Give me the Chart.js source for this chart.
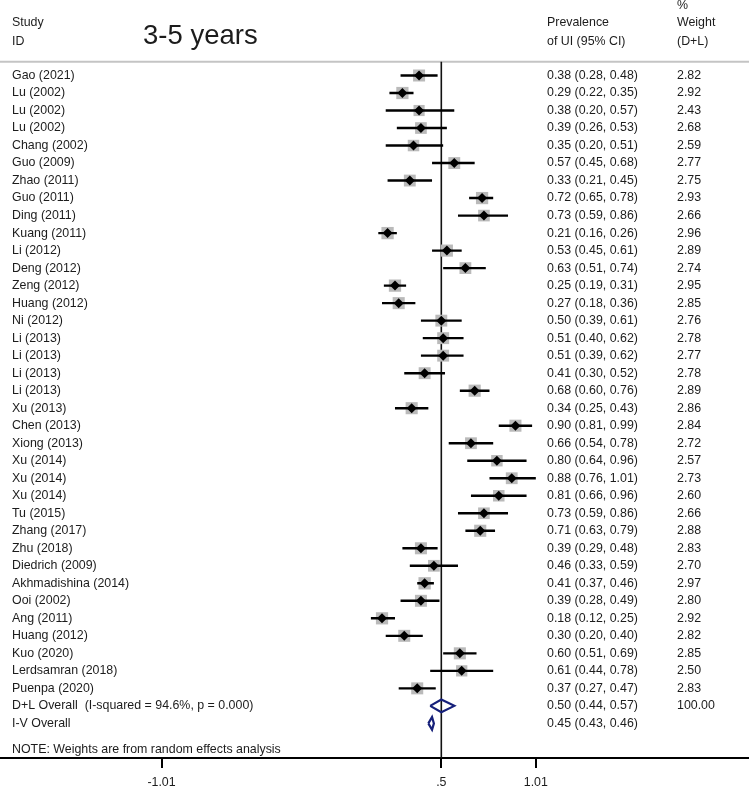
<!DOCTYPE html>
<html><head><meta charset="utf-8">
<script src="https://cdn.jsdelivr.net/npm/chart.js@4.4.1/dist/chart.umd.min.js"></script>
<style>html,body{margin:0;padding:0;background:#fff;} canvas{display:block;}</style>
</head><body>
<canvas id="c" width="749" height="788"></canvas>
<script>
// ---- data ----
const studies = ['Gao (2021)','Lu (2002)','Lu (2002)','Lu (2002)','Chang (2002)','Guo (2009)','Zhao (2011)','Guo (2011)','Ding (2011)','Kuang (2011)','Li (2012)','Deng (2012)','Zeng (2012)','Huang (2012)','Ni (2012)','Li (2013)','Li (2013)','Li (2013)','Li (2013)','Xu (2013)','Chen (2013)','Xiong (2013)','Xu (2014)','Xu (2014)','Xu (2014)','Tu (2015)','Zhang (2017)','Zhu (2018)','Diedrich (2009)','Akhmadishina (2014)','Ooi (2002)','Ang (2011)','Huang (2012)','Kuo (2020)','Lerdsamran (2018)','Puenpa (2020)'];
const estimates = [0.38,0.29,0.38,0.39,0.35,0.57,0.33,0.72,0.73,0.21,0.53,0.63,0.25,0.27,0.50,0.51,0.51,0.41,0.68,0.34,0.90,0.66,0.80,0.88,0.81,0.73,0.71,0.39,0.46,0.41,0.39,0.18,0.30,0.60,0.61,0.37];
const lower = [0.28,0.22,0.20,0.26,0.20,0.45,0.21,0.65,0.59,0.16,0.45,0.51,0.19,0.18,0.39,0.40,0.39,0.30,0.60,0.25,0.81,0.54,0.64,0.76,0.66,0.59,0.63,0.29,0.33,0.37,0.28,0.12,0.20,0.51,0.44,0.27];
const upper = [0.48,0.35,0.57,0.53,0.51,0.68,0.45,0.78,0.86,0.26,0.61,0.74,0.31,0.36,0.61,0.62,0.62,0.52,0.76,0.43,0.99,0.78,0.96,1.01,0.96,0.86,0.79,0.48,0.59,0.46,0.49,0.25,0.40,0.69,0.78,0.47];
const weights = [2.82,2.92,2.43,2.68,2.59,2.77,2.75,2.93,2.66,2.96,2.89,2.74,2.95,2.85,2.76,2.78,2.77,2.78,2.89,2.86,2.84,2.72,2.57,2.73,2.60,2.66,2.88,2.83,2.70,2.97,2.80,2.92,2.82,2.85,2.50,2.83];
const overallLabels = ['D+L Overall  (I-squared = 94.6%, p = 0.000)', 'I-V Overall'];
const overallEst = [0.50, 0.45];
const overallLow = [0.44, 0.43];
const overallHigh = [0.57, 0.46];
const overallWeight = ['100.00', ''];
const tickValues = [-1.01, 0.5, 1.01];
const tickLabels = ['-1.01', '.5', '1.01'];
const nullValue = 0.5;
const noteText = 'NOTE: Weights are from random effects analysis';

// ---- layout / style ----
const X_MIN = -1.8816, X_MAX = 2.1605;
const Y_MIN = -4.3118, Y_MAX = 38.977;
const HEADER_ROW = -0.79;
const NAVY = '#16207a';
const FONT = '"Liberation Sans", Arial, sans-serif';
const n = studies.length;

const fmt = v => v.toFixed(2);

const whiskerData = [];
studies.forEach((s, i) => {
  whiskerData.push({x: lower[i], y: i}, {x: upper[i], y: i}, {x: null, y: null});
});
const pointData = studies.map((s, i) => ({x: estimates[i], y: i}));
const boxRadius = weights.map(w => (12 * Math.sqrt(w / 2.82)) / Math.SQRT2);

const diamondData = [];
const halfH = 0.36;
overallEst.forEach((e, k) => {
  const r = n + k;
  diamondData.push({x: overallLow[k], y: r}, {x: e, y: r - halfH}, {x: overallHigh[k], y: r},
                   {x: e, y: r + halfH}, {x: overallLow[k], y: r}, {x: null, y: null});
});

const textPlugin = {
  id: 'forestText',
  afterDraw(chart) {
    const ctx = chart.ctx, ys = chart.scales.y;
    ctx.save();
    ctx.fillStyle = '#1c1c1c';
    ctx.textBaseline = 'middle';
    ctx.textAlign = 'left';
    ctx.font = '12.4px ' + FONT;
    // headers
    ctx.fillText('Study', 12, 23);
    ctx.fillText('ID', 12, 41.5);
    ctx.fillText('Prevalence', 547, 23);
    ctx.fillText('of UI (95% CI)', 547, 41.5);
    ctx.fillText('%', 677, 6);
    ctx.fillText('Weight', 677, 23);
    ctx.fillText('(D+L)', 677, 41.5);
    studies.forEach((s, i) => {
      const y = ys.getPixelForValue(i);
      ctx.fillText(s, 12, y);
      ctx.fillText(fmt(estimates[i]) + ' (' + fmt(lower[i]) + ', ' + fmt(upper[i]) + ')', 547, y);
      ctx.fillText(fmt(weights[i]), 677, y);
    });
    overallLabels.forEach((s, k) => {
      const y = ys.getPixelForValue(n + k);
      ctx.fillText(s, 12, y);
      ctx.fillText(fmt(overallEst[k]) + ' (' + fmt(overallLow[k]) + ', ' + fmt(overallHigh[k]) + ')', 547, y);
      ctx.fillText(overallWeight[k], 677, y);
    });
    ctx.fillText(noteText, 12, ys.getPixelForValue(n + 2.5));
    ctx.font = '27.5px ' + FONT;
    ctx.textBaseline = 'alphabetic';
    ctx.fillText('3-5 years', 143, 44);
    ctx.restore();
  }
};

new Chart(document.getElementById('c'), {
  type: 'scatter',
  data: {
    datasets: [
      { label: 'estimate', data: pointData, pointStyle: 'rectRot', pointRadius: 5,
        backgroundColor: '#000', borderColor: '#000', borderWidth: 0, order: 0 },
      { label: 'ci', data: whiskerData, showLine: true, spanGaps: false, borderColor: '#000',
        borderWidth: 2.4, pointRadius: 0, order: 1 },
      { label: 'weight', data: pointData, pointStyle: 'rect', pointRadius: boxRadius,
        backgroundColor: '#bababa', borderWidth: 0, order: 2 },
      { label: 'overall', data: diamondData, showLine: true, spanGaps: false, borderColor: NAVY,
        borderWidth: 2.2, pointRadius: 0, borderJoinStyle: 'miter', order: 1 },
      { label: 'null', data: [{x: nullValue, y: HEADER_ROW}, {x: nullValue, y: Y_MAX}], showLine: true,
        borderColor: '#111', borderWidth: 1.6, pointRadius: 0, order: 3 },
      { label: 'header', data: [{x: X_MIN, y: HEADER_ROW}, {x: X_MAX, y: HEADER_ROW}], showLine: true,
        borderColor: '#c4c4c4', borderWidth: 2, pointRadius: 0, order: 4 }
    ]
  },
  options: {
    responsive: false, animation: false, devicePixelRatio: 1,
    layout: { padding: 0, autoPadding: false },
    plugins: { legend: { display: false }, tooltip: { enabled: false } },
    scales: {
      x: {
        type: 'linear', min: X_MIN, max: X_MAX, position: 'bottom',
        afterBuildTicks: s => { s.ticks = tickValues.map(v => ({ value: v })); },
        afterFit: s => { s.height = 30; },
        ticks: { autoSkip: false, maxRotation: 0, padding: 7, color: '#1c1c1c',
                 font: { family: FONT, size: 12.4 }, callback: (v, i) => tickLabels[i] },
        grid: { drawOnChartArea: false, drawTicks: true, tickLength: 10, color: '#000', lineWidth: 2 },
        border: { display: true, color: '#000', width: 2 }
      },
      y: { type: 'linear', display: false, reverse: true, min: Y_MIN, max: Y_MAX }
    }
  },
  plugins: [textPlugin]
});
</script>
</body></html>
